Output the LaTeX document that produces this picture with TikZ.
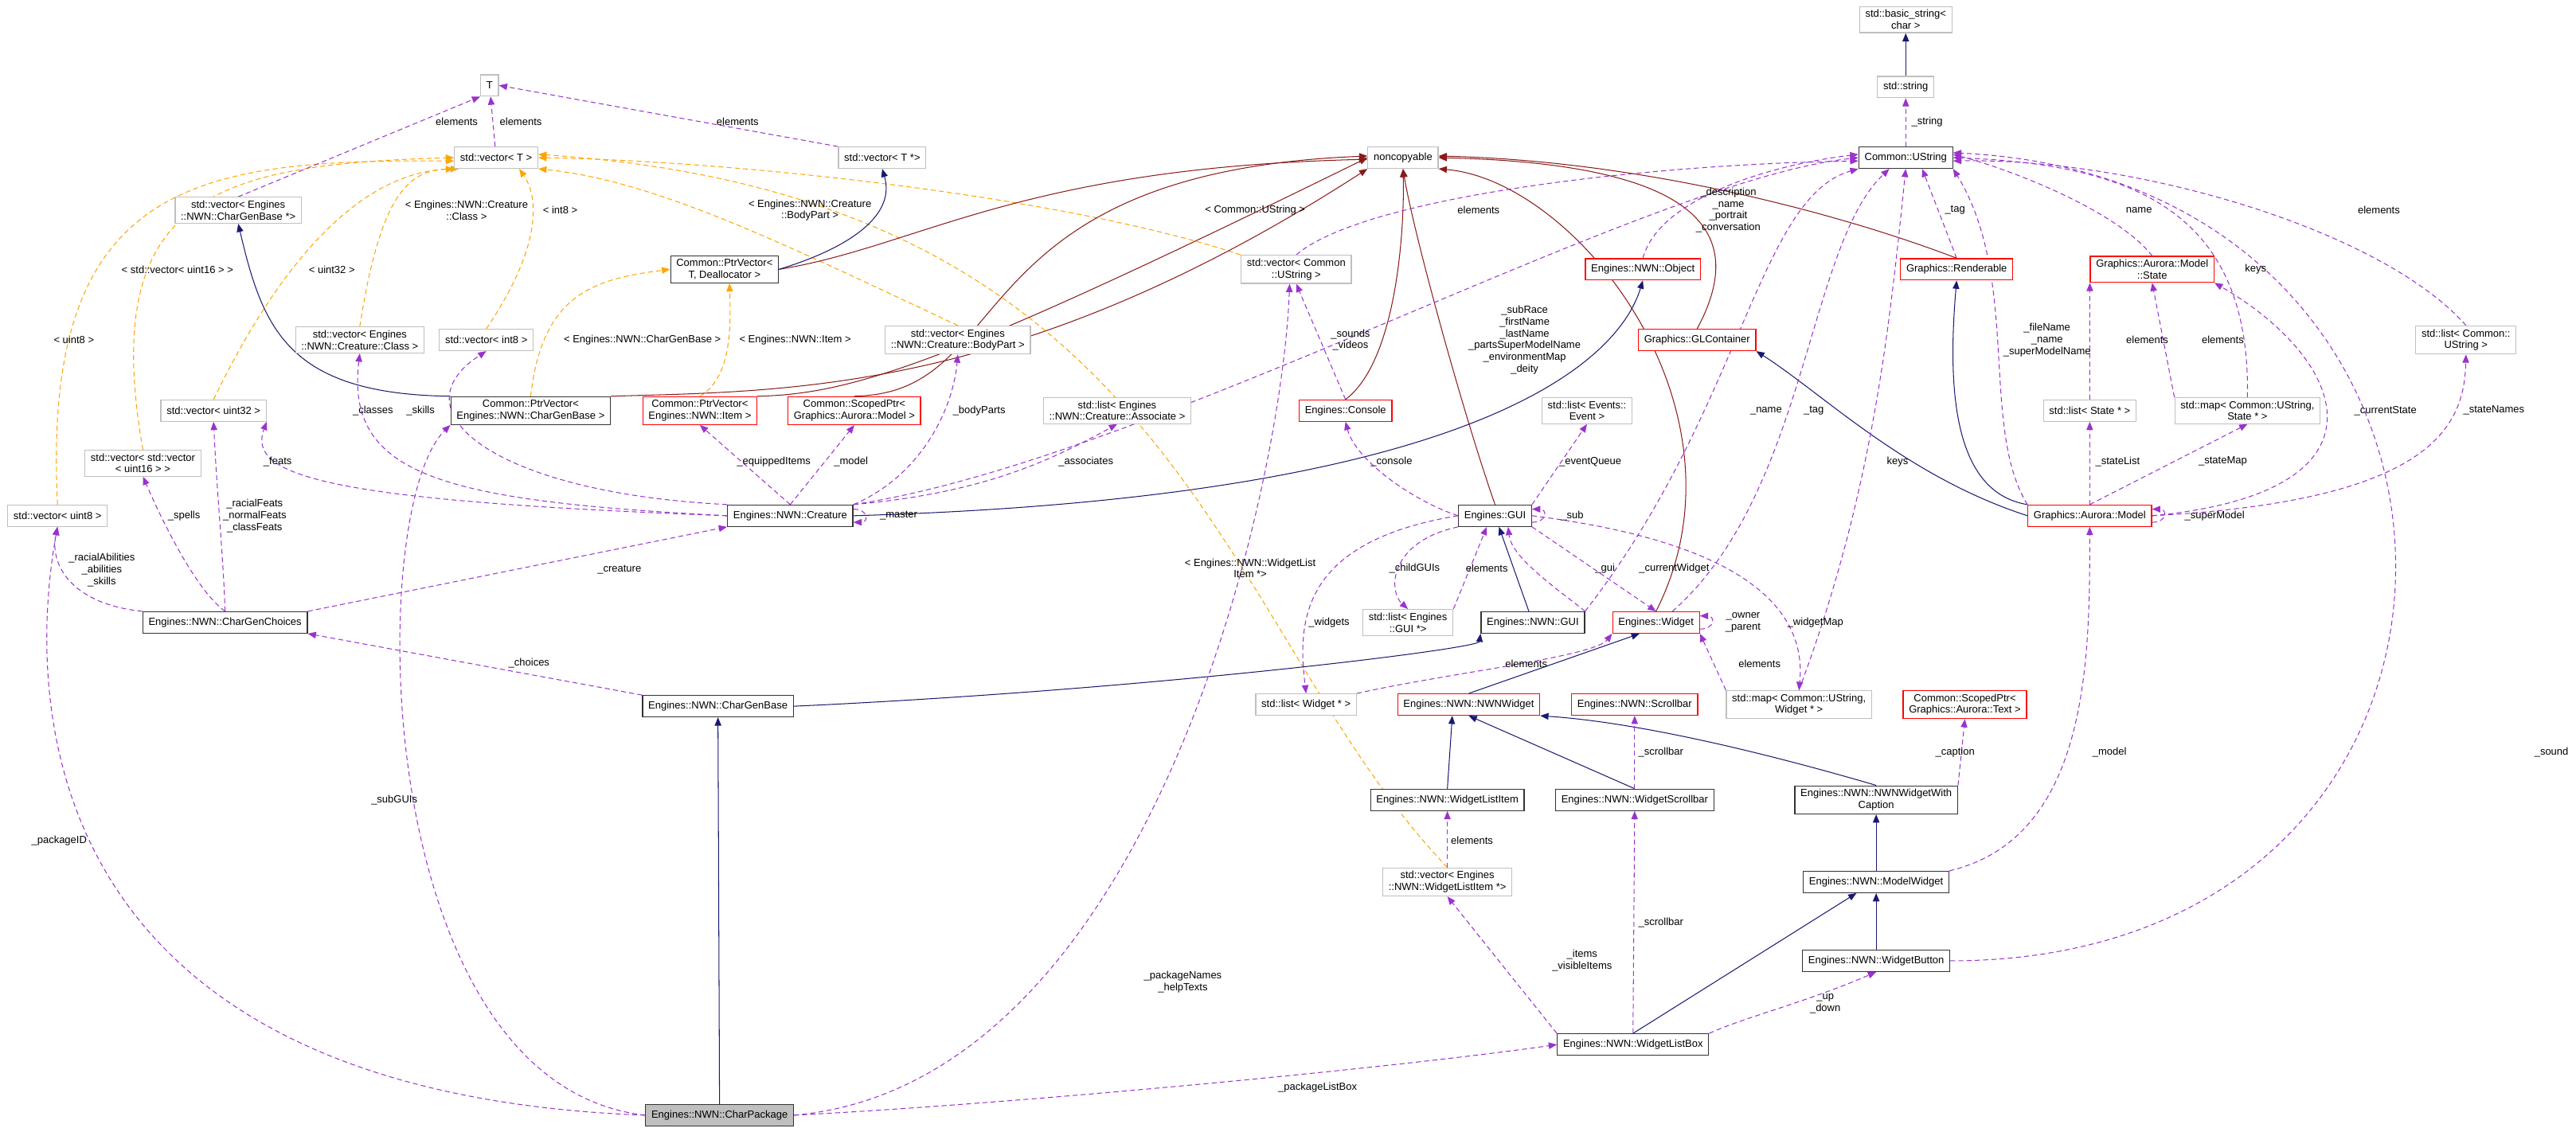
\documentclass[tikz,border=0pt]{standalone}
\usepackage{fontspec}
\setmainfont{Liberation Sans}
\usetikzlibrary{arrows.meta}
\definecolor{pur}{HTML}{9A32CD}
\definecolor{orn}{HTML}{FFA500}
\definecolor{nav}{HTML}{191970}
\definecolor{drd}{HTML}{8B1A1A}
\definecolor{gbd}{HTML}{BFBFBF}
\pgfdeclarelayer{bg}
\pgfsetlayers{bg,main}
\begin{document}
\begin{tikzpicture}[x=1pt,y=-1pt,
  every node/.style={font=\fontsize{6.3}{7.2}\selectfont,align=center},
  box/.style={draw=gbd,line width=0.6pt,inner xsep=3.5pt,inner ysep=2pt,minimum height=13pt,fill=white},
  gbox/.style={box},
  rbox/.style={box,draw=red},
  kbox/.style={box,draw=black!80},
  lbl/.style={inner sep=0pt},
  tip/.style={-{Triangle[length=5pt,width=4pt]}},
  pd/.style={tip,draw=pur,dashed,dash pattern=on 3pt off 2pt,line width=0.5pt},
  od/.style={tip,draw=orn,dashed,dash pattern=on 3pt off 2pt,line width=0.5pt},
  nv/.style={tip,draw=nav,line width=0.5pt},
  dr/.style={tip,draw=drd,line width=0.5pt}]
\useasboundingbox (0,0) rectangle (1568,689);
% nodes
\node[gbox] (T) at (298,52) {T};
\node[gbox] (vecT) at (302,96) {std::vector< T >};
\node[gbox] (vecTptr) at (537,96) {std::vector< T *>};
\node[gbox] (noncop) at (854,96) {noncopyable};
\node[kbox] (UString) at (1160,96) {Common::UString};
\node[gbox] (string) at (1160,53) {std::string};
\node[gbox] (bstring) at (1160,12) {std::basic\_string<\\char >};
\node[gbox] (vecCGBptr) at (145,128) {std::vector< Engines\\::NWN::CharGenBase *>};
\node[kbox] (PtrVecTD) at (441,164) {Common::PtrVector<\\T, Deallocator >};
\node[gbox] (vecCUS) at (789,164) {std::vector< Common\\::UString >};
\node[rbox] (NWNObject) at (1000,164) {Engines::NWN::Object};
\node[rbox] (Renderable) at (1191,164) {Graphics::Renderable};
\node[rbox] (State) at (1310,164) {Graphics::Aurora::Model\\::State};
\node[rbox] (GLC) at (1033,207) {Graphics::GLContainer};
\node[gbox] (listCUS) at (1501,207) {std::list< Common::\\UString >};
\node[gbox] (vecClass) at (219,207) {std::vector< Engines\\::NWN::Creature::Class >};
\node[gbox] (vecInt8) at (296,207) {std::vector< int8 >};
\node[gbox] (vecBody) at (583,207) {std::vector< Engines\\::NWN::Creature::BodyPart >};
\node[gbox] (vecU32) at (130,250) {std::vector< uint32 >};
\node[kbox] (PtrVecCGB) at (323,250) {Common::PtrVector<\\Engines::NWN::CharGenBase >};
\node[rbox] (PtrVecItem) at (426,250) {Common::PtrVector<\\Engines::NWN::Item >};
\node[rbox] (ScopedModel) at (520,250) {Common::ScopedPtr<\\Graphics::Aurora::Model >};
\node[gbox] (listAssoc) at (680,250) {std::list< Engines\\::NWN::Creature::Associate >};
\node[rbox] (Console) at (819,250) {Engines::Console};
\node[gbox] (listEv) at (966,250) {std::list< Events::\\Event >};
\node[gbox] (listState) at (1272,250) {std::list< State * >};
\node[gbox] (mapState) at (1368,250) {std::map< Common::UString,\\State * >};
\node[gbox] (vecvec16) at (87,282) {std::vector< std::vector\\< uint16 > >};
\node[gbox] (vecU8) at (35,314) {std::vector< uint8 >};
\node[kbox] (Creature) at (481,314) {Engines::NWN::Creature};
\node[kbox] (GUI) at (910,314) {Engines::GUI};
\node[rbox] (AModel) at (1272,314) {Graphics::Aurora::Model};
\node[kbox] (CGChoices) at (137,379) {Engines::NWN::CharGenChoices};
\node[gbox] (listGUIs) at (857,379) {std::list< Engines\\::GUI *>};
\node[kbox] (NWNGUI) at (933,379) {Engines::NWN::GUI};
\node[rbox] (Widget) at (1008,379) {Engines::Widget};
\node[kbox] (CGBase) at (437,430) {Engines::NWN::CharGenBase};
\node[gbox] (listW) at (795,429) {std::list< Widget * >};
\node[rbox] (NWNWidget) at (894,429) {Engines::NWN::NWNWidget};
\node[rbox] (Scrollbar) at (995,429) {Engines::NWN::Scrollbar};
\node[gbox] (mapW) at (1095,429) {std::map< Common::UString,\\Widget * >};
\node[rbox] (ScopedText) at (1196,429) {Common::ScopedPtr<\\Graphics::Aurora::Text >};
\node[kbox] (WLI) at (881,487) {Engines::NWN::WidgetListItem};
\node[kbox] (WSB) at (995,487) {Engines::NWN::WidgetScrollbar};
\node[kbox] (WWC) at (1142,487) {Engines::NWN::NWNWidgetWith\\Caption};
\node[gbox] (vecWLI) at (881,537) {std::vector< Engines\\::NWN::WidgetListItem *>};
\node[kbox] (MW) at (1142,537) {Engines::NWN::ModelWidget};
\node[kbox] (WB) at (1142,585) {Engines::NWN::WidgetButton};
\node[kbox] (WLB) at (994,636) {Engines::NWN::WidgetListBox};
\node[kbox,fill=gbd] (CP) at (438,679) {Engines::NWN::CharPackage};

\begin{pgfonlayer}{bg}
% orange
\draw[od] (vecU8.north) .. controls (25,110) and (120,97) .. ([yshift=-2]vecT.west);
\draw[od] (vecvec16.north) .. controls (60,120) and (130,100) .. (vecT.west);
\draw[od] (vecU32.north) .. controls (180,140) and (230,105) .. (vecT.south west);
\draw[od] (vecClass.north) .. controls (232,115) and (250,103) .. ([xshift=3]vecT.south west);
\draw[od] (vecInt8.north) .. controls (330,150) and (328,120) .. ([xshift=14]vecT.south);
\draw[od] (vecBody.north) .. controls (480,150) and (400,110) .. (vecT.south east);
\draw[od] (vecCUS.north west) .. controls (650,120) and (450,98) .. (vecT.east);
\draw[od] (vecWLI.north) .. controls (740,380) and (720,120) .. ([yshift=2]vecT.east);
\draw[od] (PtrVecCGB.north) .. controls (330,180) and (360,170) .. (PtrVecTD.west);
\draw[od] (PtrVecItem.north) .. controls (445,230) and (445,200) .. ([xshift=3]PtrVecTD.south);
% darkred
\draw[dr] (PtrVecTD.east) .. controls (560,150) and (620,102) .. ([yshift=-1]noncop.west);
\draw[dr] (PtrVecCGB.north east) .. controls (480,238) and (620,240) .. (noncop.south west);
\draw[dr] (PtrVecItem.north east) .. controls (520,240) and (580,220) .. (noncop.west);
\draw[dr] (ScopedModel.north) .. controls (620,240) and (580,105) .. ([yshift=1]noncop.west);
\draw[dr] (Console.north) .. controls (850,220) and (855,140) .. (noncop.south);
\draw[dr] (GUI.north) .. controls (890,250) and (860,140) .. (noncop.south);
\draw[dr] (Widget.north) .. controls (1070,250) and (960,110) .. (noncop.south east);
\draw[dr] (GLC.north) .. controls (1060,150) and (1050,100) .. (noncop.east);
\draw[dr] (Renderable.north) .. controls (1120,130) and (1000,98) .. ([yshift=1]noncop.east);
% navy
\draw[nv] (string) -- (bstring);
\draw[nv] (PtrVecTD.east) .. controls (520,150) and (545,130) .. (vecTptr.south);
\draw[nv] (PtrVecCGB.north west) .. controls (175,240) and (160,200) .. (vecCGBptr.south);
\draw[nv] (Creature.east) .. controls (900,303) and (985,220) .. (NWNObject.south);
\draw[nv] (CP) -- (CGBase);
\draw[nv] (CGBase.east) .. controls (700,420) and (900,395) .. (NWNGUI.south west);
\draw[nv] (NWNGUI) -- (GUI);
\draw[nv] (AModel.west) .. controls (1160,290) and (1110,240) .. (GLC.south east);
\draw[nv] (AModel.north west) .. controls (1190,300) and (1185,240) .. (Renderable.south);
\draw[nv] (NWNWidget.north) -- ([xshift=-10]Widget.south);
\draw[nv] (WLI.north) -- ([xshift=-10]NWNWidget.south);
\draw[nv] (WSB.north) -- (NWNWidget.south);
\draw[nv] (WWC.north) .. controls (1080,460) and (1000,440) .. (NWNWidget.south east);
\draw[nv] (MW) -- (WWC);
\draw[nv] (WB) -- (MW);
\draw[nv] (WLB.north) -- ([xshift=-12]MW.south);
% purple
\draw[pd] (vecCGBptr.north) -- (T.south west);
\draw[pd] (vecT) -- (T);
\draw[pd] (vecTptr.north west) -- (T.east);
\draw[pd] (UString) -- (string);
\draw[pd] (vecCUS.north) .. controls (830,120) and (1000,100) .. ([yshift=-2]UString.west);
\draw[pd] (NWNObject.north) .. controls (1010,120) and (1080,100) .. ([yshift=2]UString.west);
\draw[pd] (Creature.north east) .. controls (700,280) and (1000,110) .. (UString.west);
\draw[pd] (Renderable.north) -- ([xshift=10]UString.south);
\draw[pd] (State.north) .. controls (1290,130) and (1230,105) .. ([yshift=2]UString.east);
\draw[pd] (mapState.north) .. controls (1370,130) and (1300,100) .. (UString.east);
\draw[pd] (listCUS.north) .. controls (1450,140) and (1300,96) .. ([yshift=-2]UString.east);
\draw[pd] (AModel.north west) .. controls (1205,260) and (1230,170) .. (UString.south east);
\draw[pd] (NWNGUI.north east) .. controls (1060,250) and (1070,120) .. (UString.south west);
\draw[pd] ([xshift=10]Widget.north) .. controls (1100,300) and (1100,150) .. ([xshift=-10]UString.south);
\draw[pd] (mapW.north) .. controls (1140,300) and (1150,200) .. (UString.south);
\draw[pd] (WB.east) .. controls (1550,585) and (1545,110) .. ([yshift=3]UString.east);
\draw[pd] (listState.north) -- (State.south west);
\draw[pd] (mapState.north west) -- (State.south);
\draw[pd] (AModel.east) .. controls (1460,300) and (1430,220) .. (State.south east);
\draw[pd] (AModel) -- (listState);
\draw[pd] (AModel.north) -- (mapState.south);
\draw[pd] (AModel.east) .. controls (1480,305) and (1500,260) .. (listCUS.south);
\draw[pd] ([yshift=-4]AModel.east) to[out=0,in=0,looseness=3] ([yshift=4]AModel.east);
\draw[pd] (MW.north east) .. controls (1272,510) and (1272,400) .. (AModel.south);
\draw[pd] (Console.north) -- (vecCUS.south);
\draw[pd] (CP.east) .. controls (700,660) and (780,300) .. ([xshift=-4]vecCUS.south);
\draw[pd] (GUI.west) .. controls (860,305) and (825,280) .. (Console.south);
\draw[pd] (GUI.north east) -- (listEv.south);
\draw[pd] ([yshift=-4]GUI.east) to[out=0,in=0,looseness=3] ([yshift=4]GUI.east);
\draw[pd] (GUI.south west) .. controls (845,330) and (845,360) .. (listGUIs.north);
\draw[pd] (listGUIs.north east) -- ([xshift=-5]GUI.south);
\draw[pd] (GUI.west) .. controls (790,330) and (790,380) .. (listW.north);
\draw[pd] (GUI.south east) -- (Widget.north);
\draw[pd] (NWNGUI.north east) .. controls (950,360) and (920,340) .. ([xshift=8]GUI.south);
\draw[pd] (GUI.east) .. controls (1060,330) and (1100,370) .. (mapW.north);
\draw[pd] (mapW.north west) -- (Widget.south east);
\draw[pd] (listW.north east) .. controls (880,410) and (970,400) .. (Widget.south west);
\draw[pd] ([yshift=-4]Widget.east) to[out=0,in=0,looseness=3] ([yshift=4]Widget.east);
\draw[pd] (Creature.west) .. controls (270,305) and (210,290) .. (vecClass.south);
\draw[pd] (Creature.north west) .. controls (300,300) and (240,250) .. (vecInt8.south);
\draw[pd] (Creature.west) .. controls (200,305) and (150,290) .. (vecU32.south east);
\draw[pd] (Creature.north) -- (PtrVecItem.south);
\draw[pd] (Creature.north) -- (ScopedModel.south);
\draw[pd] (Creature.north east) .. controls (560,290) and (580,250) .. (vecBody.south);
\draw[pd] (Creature.north east) .. controls (600,300) and (640,280) .. (listAssoc.south);
\draw[pd] ([yshift=4]Creature.east) to[out=0,in=0,looseness=3] ([yshift=-4]Creature.east);
\draw[pd] (CGChoices.north west) .. controls (45,368) and (30,345) .. (vecU8.south);
\draw[pd] (CGChoices.north) .. controls (120,360) and (100,320) .. (vecvec16.south);
\draw[pd] (CGChoices.north) .. controls (136,340) and (132,300) .. (vecU32.south);
\draw[pd] (CGChoices.north east) -- (Creature.south west);
\draw[pd] (CGBase.north west) -- (CGChoices.south east);
\draw[pd] (CP.west) .. controls (15,665) and (17,420) .. (vecU8.south);
\draw[pd] (CP.west) .. controls (225,660) and (222,310) .. (PtrVecCGB.south west);
\draw[pd] (CP.east) .. controls (620,672) and (850,650) .. (WLB.west);
\draw[pd] (WSB) -- (Scrollbar);
\draw[pd] (WLB.north) -- (WSB.south);
\draw[pd] (WLB.north west) -- (vecWLI.south);
\draw[pd] (vecWLI) -- (WLI);
\draw[pd] (WLB.north east) .. controls (1060,620) and (1100,610) .. (WB.south);
\draw[pd] (WWC.north east) -- (ScopedText.south);
\end{pgfonlayer}
% labels
\node[lbl] at (278,74) {elements};
\node[lbl] at (317,74) {elements};
\node[lbl] at (449,74) {elements};
\node[lbl] at (284,128) {< Engines::NWN::Creature\\::Class >};
\node[lbl] at (341,128) {< int8 >};
\node[lbl] at (493,128) {< Engines::NWN::Creature\\::BodyPart >};
\node[lbl] at (108,164) {< std::vector< uint16 > >};
\node[lbl] at (202,164) {< uint32 >};
\node[lbl] at (45,207) {< uint8 >};
\node[lbl] at (391,207) {< Engines::NWN::CharGenBase >};
\node[lbl] at (484,207) {< Engines::NWN::Item >};
\node[lbl] at (227,250) {\_classes};
\node[lbl] at (256,250) {\_skills};
\node[lbl] at (169,281) {\_feats};
\node[lbl] at (471,281) {\_equippedItems};
\node[lbl] at (518,281) {\_model};
\node[lbl] at (112,314) {\_spells};
\node[lbl] at (155,314) {\_racialFeats\\\_normalFeats\\\_classFeats};
\node[lbl] at (764,128) {< Common::UString >};
\node[lbl] at (900,128) {elements};
\node[lbl] at (1052,128) {\_description\\\_name\\\_portrait\\\_conversation};
\node[lbl] at (822,207) {\_sounds\\\_videos};
\node[lbl] at (928,207) {\_subRace\\\_firstName\\\_lastName\\\_partsSuperModelName\\\_environmentMap\\\_deity};
\node[lbl] at (596,250) {\_bodyParts};
\node[lbl] at (661,281) {\_associates};
\node[lbl] at (847,281) {\_console};
\node[lbl] at (968,281) {\_eventQueue};
\node[lbl] at (547,314) {\_master};
\node[lbl] at (957,314) {\_sub};
\node[lbl] at (1173,74) {\_string};
\node[lbl] at (1190,128) {\_tag};
\node[lbl] at (1302,128) {name};
\node[lbl] at (1448,128) {elements};
\node[lbl] at (1373,164) {keys};
\node[lbl] at (1246,207) {\_fileName\\\_name\\\_superModelName};
\node[lbl] at (1307,207) {elements};
\node[lbl] at (1353,207) {elements};
\node[lbl] at (1075,250) {\_name};
\node[lbl] at (1104,250) {\_tag};
\node[lbl] at (1452,250) {\_currentState};
\node[lbl] at (1518,250) {\_stateNames};
\node[lbl] at (1155,281) {keys};
\node[lbl] at (1289,281) {\_stateList};
\node[lbl] at (1353,281) {\_stateMap};
\node[lbl] at (1348,314) {\_superModel};
\node[lbl] at (761,346) {< Engines::NWN::WidgetList\\Item *>};
\node[lbl] at (861,346) {\_childGUIs};
\node[lbl] at (905,346) {elements};
\node[lbl] at (977,346) {\_gui};
\node[lbl] at (1019,346) {\_currentWidget};
\node[lbl] at (809,379) {\_widgets};
\node[lbl] at (1061,379) {\_owner\\\_parent};
\node[lbl] at (1105,379) {\_widgetMap};
\node[lbl] at (929,404) {elements};
\node[lbl] at (1071,404) {elements};
\node[lbl] at (1011,458) {\_scrollbar};
\node[lbl] at (1190,458) {\_caption};
\node[lbl] at (896,512) {elements};
\node[lbl] at (1011,562) {\_scrollbar};
\node[lbl] at (963,585) {\_items\\\_visibleItems};
\node[lbl] at (1111,611) {\_up\\\_down};
\node[lbl] at (802,662) {\_packageListBox};
\node[lbl] at (377,347) {\_creature};
\node[lbl] at (322,404) {\_choices};
\node[lbl] at (62,347) {\_racialAbilities\\\_abilities\\\_skills};
\node[lbl] at (36,512) {\_packageID};
\node[lbl] at (240,487) {\_subGUIs};
\node[lbl] at (720,598) {\_packageNames\\\_helpTexts};
\node[lbl] at (1284,458) {\_model};
\node[lbl] at (1553,458) {\_sound};
\end{tikzpicture}
\end{document}
